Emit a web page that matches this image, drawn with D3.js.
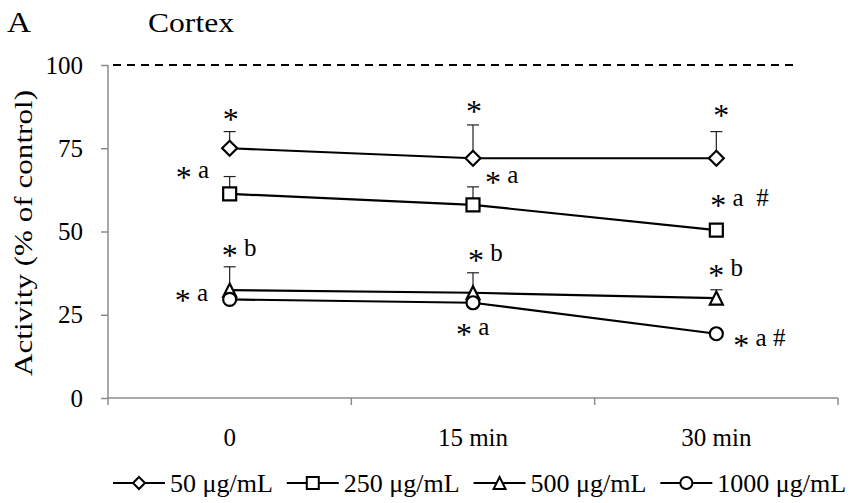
<html>
<head>
<script src="https://d3js.org/d3.v7.min.js"></script>
<style>
body { margin: 0; background: #fff; }
svg text { font-family: "Liberation Serif", "Times New Roman", "DejaVu Serif", serif; fill: #000; }
.axis path, .axis line { stroke: #8c8c8c; stroke-width: 1.5px; }
.axis text { font-size: 25px; font-family: "Liberation Serif", "Times New Roman", serif; }
.ann { font-size: 25px; white-space: pre; }
.star { font-size: 32px; }
</style>
</head>
<body>
<svg id="chart" width="850" height="503"></svg>
<script>
// ---- data ----
var times = ["0", "15 min", "30 min"];
var seriesNames = ["50 μg/mL", "250 μg/mL", "500 μg/mL", "1000 μg/mL"];
var shapes = ["diamond", "square", "triangle", "circle"];
var mean50 = [75, 72, 72];
var mean250 = [61.3, 58, 50.4];
var mean500 = [32.4, 31.6, 30];
var mean1000 = [29.6, 28.6, 19.3];
var err50 = [5, 10, 8];
var err250 = [5.2, 5.4, 0];
var err500 = [7, 6, 2.5];
var err1000 = [0, 0, 0];
var yTicks = [0, 25, 50, 75, 100];

// significance labels: series, time index, text, pixel offset of text start from point
var annotations = [
  [0, 0, "*", -7, -28], [0, 1, "*", -7, -46], [0, 2, "*", -3, -42],
  [1, 0, "* a", -54, -16], [1, 1, "* a", 12, -22], [1, 2, "* a  #", -6, -24],
  [2, 0, "* b", -8, -34], [2, 1, "* b", -5, -32], [2, 2, "* b", -8, -22],
  [3, 0, "* a", -55, 2], [3, 1, "* a", -17, 32], [3, 2, "* a #", 17, 12]
];

var means = [mean50, mean250, mean500, mean1000];
var errs = [err50, err250, err500, err1000];

var svg = d3.select("#chart");
var x = d3.scaleBand().domain(times).range([108, 838]).padding(0);
var y = d3.scaleLinear().domain([0, 100]).range([398, 65]);
var cx = function(t) { return x(t) + x.bandwidth() / 2; };

function shapePath(kind, r) {
  if (kind == "diamond") return "M0," + (-r) + "L" + r + ",0L0," + r + "L" + (-r) + ",0Z";
  if (kind == "square") return "M" + (-r) + "," + (-r) + "h" + 2 * r + "v" + 2 * r + "h" + (-2 * r) + "Z";
  if (kind == "triangle") return "M0," + (-r) + "L" + r + "," + r + "L" + (-r) + "," + r + "Z";
  return d3.symbol().type(d3.symbolCircle).size(Math.PI * r * r)();
}
var markerR = { diamond: 7.5, square: 6.5, triangle: 6.5, circle: 6.5 };

// titles
svg.append("text").attr("x", 7).attr("y", 32).style("font-size", "30px")
  .attr("textLength", 24).attr("lengthAdjust", "spacingAndGlyphs").text("A");
svg.append("text").attr("x", 148).attr("y", 32).style("font-size", "28px")
  .attr("textLength", 86).attr("lengthAdjust", "spacingAndGlyphs").text("Cortex");

// axes
var yAxis = svg.append("g").attr("class", "axis").attr("transform", "translate(108,0)")
  .call(d3.axisLeft(y).tickValues(yTicks).tickSize(7).tickPadding(18).tickSizeOuter(0));
yAxis.attr("font-family", null);
yAxis.select(".domain").attr("d", "M0," + y(0) + "V" + y(100));

var xAxis = svg.append("g").attr("class", "axis").attr("transform", "translate(0," + y(0) + ")");
xAxis.append("line").attr("x1", x.range()[0]).attr("x2", x.range()[1]);
xAxis.selectAll(".tk").data(times.map(function(t) { return x(t); }).concat([x.range()[1]]))
  .enter().append("line").attr("x1", function(d) { return d; }).attr("x2", function(d) { return d; })
  .attr("y1", 0).attr("y2", 7);
xAxis.selectAll(".lb").data(times).enter().append("text")
  .attr("x", cx).attr("y", 48).attr("text-anchor", "middle").text(function(d) { return d; });

svg.append("text").attr("transform", "translate(32,233) rotate(-90)")
  .attr("text-anchor", "middle").style("font-size", "26px")
  .attr("textLength", 286).attr("lengthAdjust", "spacingAndGlyphs").text("Activity (% of control)");

// control line at 100 %
svg.append("line").attr("x1", x.range()[0] + 5).attr("x2", x.range()[1] - 40)
  .attr("y1", y(100)).attr("y2", y(100))
  .attr("stroke", "#000").attr("stroke-width", 2).attr("stroke-dasharray", "8,6");

var line = d3.line().x(function(d, i) { return cx(times[i]); }).y(function(d) { return y(d); });

// lines
means.forEach(function(m) {
  svg.append("path").attr("d", line(m)).attr("fill", "none").attr("stroke", "#000").attr("stroke-width", 2.2);
});

// error bars (upper only)
means.forEach(function(m, s) {
  var g = svg.append("g").attr("stroke", "#222").attr("stroke-width", 1.2);
  m.forEach(function(v, i) {
    if (!errs[s][i]) return;
    var px = cx(times[i]);
    g.append("line").attr("x1", px).attr("x2", px).attr("y1", y(v)).attr("y2", y(v + errs[s][i]));
    g.append("line").attr("x1", px - 6).attr("x2", px + 6).attr("y1", y(v + errs[s][i])).attr("y2", y(v + errs[s][i]));
  });
});

// markers
means.forEach(function(m, s) {
  svg.append("g").selectAll("path").data(m).enter().append("path")
    .attr("transform", function(d, i) { return "translate(" + cx(times[i]) + "," + y(d) + ")"; })
    .attr("d", shapePath(shapes[s], markerR[shapes[s]]))
    .attr("fill", "#fff").attr("stroke", "#000").attr("stroke-width", 2.2);
});

// annotations
annotations.forEach(function(a) {
  var t = svg.append("text").attr("class", "ann")
    .attr("x", cx(times[a[1]]) + a[3]).attr("y", y(means[a[0]][a[1]]) + a[4]);
  a[2].split(/(\*)/).filter(function(p) { return p.length; }).forEach(function(p) {
    if (p == "*") t.append("tspan").attr("class", "star").attr("dy", 10).text("*");
    else t.append("tspan").attr("dy", -10).text(p);
  });
});

// legend
var lx = 113, ly = 483;
seriesNames.forEach(function(name, s) {
  var g = svg.append("g").attr("transform", "translate(" + lx + "," + ly + ")");
  g.append("line").attr("x1", 0).attr("x2", 52).attr("stroke", "#000").attr("stroke-width", 2.2);
  g.append("path").attr("transform", "translate(26,0)").attr("d", shapePath(shapes[s], 6))
    .attr("fill", "#fff").attr("stroke", "#000").attr("stroke-width", 2);
  var tx = g.append("text").attr("x", 57).attr("y", 9).style("font-size", "26px").text(name);
  lx += 57 + tx.node().getComputedTextLength() + 14;
});
</script>
</body>
</html>
